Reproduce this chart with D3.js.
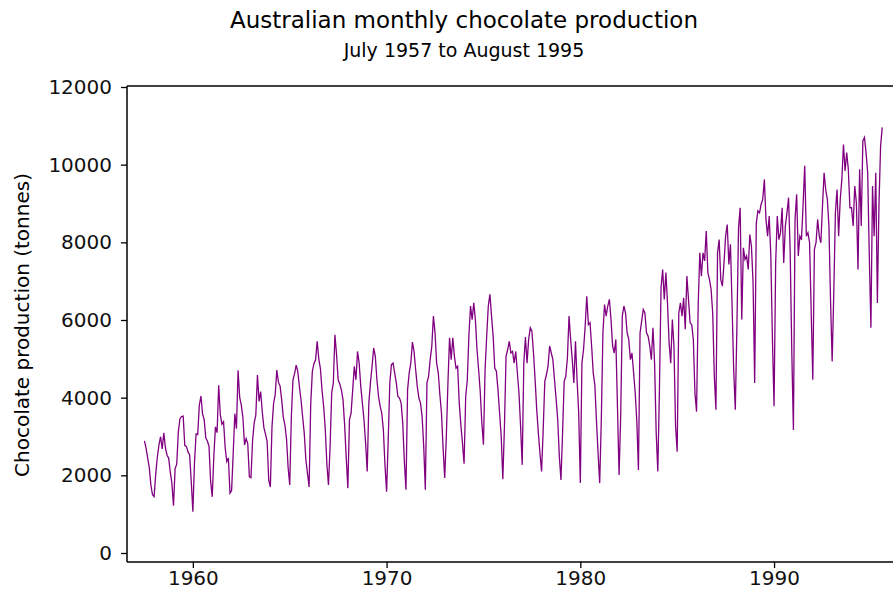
<!DOCTYPE html>
<html>
<head>
<meta charset="utf-8">
<title>Australian monthly chocolate production</title>
<script src="https://cdn.jsdelivr.net/npm/d3@7"></script>
<style>
    body { margin: 0; background: #ffffff; }
    svg { display: block; font-family: "DejaVu Sans", sans-serif; }
</style>
</head>
<body>
<div id="chart"></div>
<script>
// Chart texts
const titleText = "Australian monthly chocolate production";
const subtitleText = "July 1957 to August 1995";
const yLabelText = "Chocolate production (tonnes)";

// Series starts July 1957, one value per month (tonnes)
const firstYear = 1957;
const firstMonth = 7;
const production = [
    2890, 2700, 2450, 2200, 1750, 1500,                                   // 1957 (Jul-Dec)
    1451, 2037, 2477, 2785, 2994, 2681, 3098, 2708, 2517, 2445, 2087, 1801, // 1958
    1216, 2173, 2286, 3121, 3458, 3511, 3524, 2767, 2744, 2603, 2527, 1846, // 1959
    1066, 2327, 3066, 3048, 3806, 4042, 3583, 3438, 2957, 2885, 2744, 1837, // 1960
    1447, 2504, 3248, 3098, 4318, 3561, 3316, 3379, 2717, 2354, 2445, 1542, // 1961
    1606, 2590, 3588, 3202, 4704, 4005, 3810, 3488, 2781, 2944, 2817, 1960, // 1962
    1937, 2903, 3357, 3552, 4581, 3905, 4159, 3630, 3227, 3063, 2872, 1875, // 1963
    1700, 3240, 3850, 4080, 4710, 4400, 4300, 3950, 3500, 3300, 2950, 2200, // 1964
    1750, 3510, 4450, 4620, 4840, 4670, 4280, 3940, 3510, 3080, 2400, 2050, // 1965
    1700, 3830, 4670, 4880, 4970, 5450, 5000, 4750, 4200, 3780, 3200, 2300, // 1966
    1750, 2740, 4120, 4380, 5620, 5110, 4460, 4350, 4200, 3950, 3300, 2450, // 1967
    1670, 3430, 3600, 4200, 4810, 4460, 5190, 4890, 4290, 3860, 3430, 2830, // 1968
    2100, 3860, 4380, 4810, 5280, 5070, 4460, 4030, 3780, 3600, 3170, 2270, // 1969
    1580, 2900, 4380, 4850, 4890, 4640, 4380, 4030, 3990, 3860, 3350, 2360, // 1970
    1630, 4200, 4640, 4890, 5430, 5190, 4720, 4290, 3990, 3860, 3520, 2740, // 1971
    1630, 4380, 4550, 4980, 5320, 6100, 5670, 4890, 4640, 4080, 3600, 2700, // 1972
    1930, 3000, 4380, 5540, 4980, 5540, 5070, 4760, 4810, 3860, 3300, 2830, // 1973
    2300, 4030, 4460, 5620, 6360, 6010, 6440, 6010, 5240, 4720, 4160, 3350, // 1974
    2790, 4720, 5580, 6360, 6660, 6100, 5580, 4760, 4680, 4200, 3600, 3000, // 1975
    1900, 3260, 5070, 5240, 5450, 5150, 5190, 4890, 5190, 4640, 4120, 3260, // 1976
    2270, 4890, 5560, 4890, 5500, 5800, 5710, 5150, 4460, 3690, 3090, 2570, // 1977
    2100, 3170, 4420, 4590, 4810, 5330, 5150, 4980, 4460, 3970, 3430, 2490, // 1978
    1880, 3090, 4420, 4550, 5020, 6100, 5500, 4980, 4380, 5450, 4440, 3600, // 1979
    1800, 4890, 5240, 5840, 6610, 5880, 5930, 5330, 4640, 4330, 3400, 2570, // 1980
    1800, 3430, 5670, 6400, 6100, 6360, 6530, 6010, 5330, 5150, 5500, 3780, // 1981
    2010, 3520, 6100, 6360, 6180, 5670, 5500, 4980, 5150, 4640, 4120, 3390, // 1982
    2140, 5670, 5970, 6270, 6180, 5670, 5580, 5330, 4980, 5800, 4890, 3090, // 1983
    2100, 4200, 6830, 7300, 6530, 7220, 6440, 5410, 4890, 6010, 5330, 3260, // 1984
    2610, 6180, 6440, 6100, 6570, 5760, 7130, 6530, 5930, 5880, 5500, 4120, // 1985
    3640, 6360, 7730, 7130, 7730, 7520, 8290, 7220, 7040, 6790, 6180, 4550, // 1986
    3690, 7730, 8070, 7040, 6870, 7470, 8160, 8460, 7430, 7950, 6360, 4720, // 1987
    3690, 5840, 8370, 8890, 6010, 7860, 7560, 7650, 7300, 8200, 7900, 6960, // 1988
    4380, 8500, 8810, 8760, 8980, 9110, 9620, 8590, 8160, 8680, 7650, 5500, // 1989
    3780, 7470, 8680, 8070, 8250, 8890, 7470, 8420, 8760, 9150, 7730, 5150, // 1990
    3170, 8590, 9240, 7650, 8160, 8070, 8980, 9970, 8160, 8250, 7990, 6230, // 1991
    4460, 7820, 7990, 8590, 8160, 7990, 8930, 9790, 9360, 9110, 8420, 6480, // 1992
    4930, 6700, 8760, 9360, 8160, 9110, 9620, 10520, 9840, 10310, 9880, 8890, // 1993
    8890, 8420, 9450, 9020, 7300, 9880, 8420, 10610, 10700, 10310, 9790, 7650, // 1994
    5800, 9450, 8160, 9790, 6440, 8980, 10480, 10960                      // 1995 (Jan-Aug)
];

// Axis ticks
const xTicks = [1960, 1970, 1980, 1990];
const yTicks = [0, 2000, 4000, 6000, 8000, 10000, 12000];

// Layout
const width = 893;
const height = 592;
const plot = { left: 127, right: 893, top: 86, bottom: 562 };
const lineColor = "#800080";

const series = production.map((v, i) => ({
    t: firstYear + (firstMonth - 1 + i) / 12,
    value: v
}));

const svg = d3.select("#chart")
    .append("svg")
    .attr("width", width)
    .attr("height", height);

svg.append("rect")
    .attr("width", width)
    .attr("height", height)
    .attr("fill", "#ffffff");

// Scales
const xScale = d3.scaleLinear()
    .domain([1956.6, 1996.14])
    .range([plot.left, plot.right]);

const yScale = d3.scaleLinear()
    .domain([0, 12000])
    .range([553, 87]);

// Titles
svg.append("text")
    .attr("x", 464)
    .attr("y", 28)
    .attr("text-anchor", "middle")
    .style("font-size", "23px")
    .text(titleText);

svg.append("text")
    .attr("x", 464)
    .attr("y", 57)
    .attr("text-anchor", "middle")
    .style("font-size", "19px")
    .text(subtitleText);

// Y axis label
svg.append("text")
    .attr("transform", "translate(29,325) rotate(-90)")
    .attr("text-anchor", "middle")
    .style("font-size", "20px")
    .text(yLabelText);

// Data line
const line = d3.line()
    .x(d => xScale(d.t))
    .y(d => yScale(d.value));

svg.append("path")
    .datum(series)
    .attr("fill", "none")
    .attr("stroke", lineColor)
    .attr("stroke-width", 1.3)
    .attr("stroke-linejoin", "miter")
    .attr("d", line);

// Axes (domain lines drawn separately as frame)
const yAxis = svg.append("g")
    .attr("transform", `translate(${plot.left},0)`)
    .call(d3.axisLeft(yScale).tickValues(yTicks).tickSize(6).tickPadding(9).tickFormat(d3.format("d")));

const xAxis = svg.append("g")
    .attr("transform", `translate(0,${plot.bottom})`)
    .call(d3.axisBottom(xScale).tickValues(xTicks).tickSize(6).tickPadding(3).tickFormat(d3.format("d")));

[yAxis, xAxis].forEach(g => {
    g.select(".domain").remove();
    g.selectAll(".tick line").attr("stroke", "#000").attr("stroke-width", 1.3);
    g.selectAll(".tick text")
        .attr("fill", "#111")
        .style("font-family", "\"DejaVu Sans\", sans-serif")
        .style("font-size", "20px");
});

// Frame: left, top, bottom
const frame = svg.append("g")
    .attr("stroke", "#000")
    .attr("stroke-width", 1.5)
    .attr("fill", "none");

frame.append("line")
    .attr("x1", plot.left).attr("y1", plot.top)
    .attr("x2", plot.left).attr("y2", plot.bottom);
frame.append("line")
    .attr("x1", plot.left).attr("y1", plot.top)
    .attr("x2", plot.right).attr("y2", plot.top);
frame.append("line")
    .attr("x1", plot.left).attr("y1", plot.bottom)
    .attr("x2", plot.right).attr("y2", plot.bottom);
</script>
</body>
</html>
